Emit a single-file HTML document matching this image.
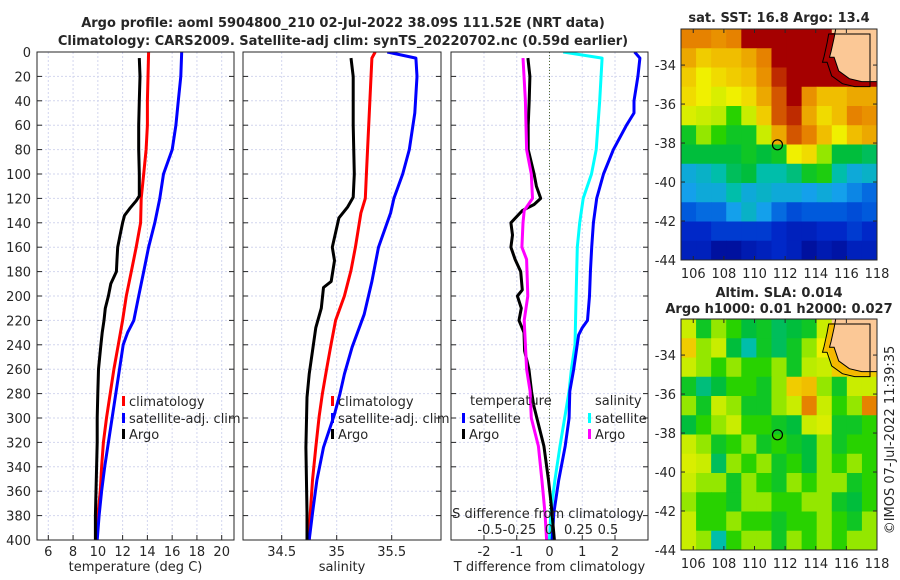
<!DOCTYPE html>
<html><head><meta charset="utf-8">
<style>
body{margin:0;background:#fff;}
svg{display:block;font-family:"DejaVu Sans","Liberation Sans",sans-serif;}
text{fill:#262626;}
</style></head>
<body>
<svg id="c" width="900" height="580" viewBox="0 0 900 580" xmlns="http://www.w3.org/2000/svg"></svg>
<script>
// ---------- data ----------
const depthClim = [0,20,40,60,80,100,120,140,160,180,200,220,240,260,280,300,320,340,360,380,400];
const tempClim = [14.1,14.05,14.0,14.0,13.9,13.7,13.5,13.45,13.1,12.7,12.3,12.0,11.65,11.3,11.0,10.7,10.45,10.3,10.2,10.0,9.85];
const depthSatT = [0,20,40,50,60,80,100,120,140,160,180,200,220,230,240,260,280,300,320,340,360,380,400];
const tempSat = [16.77,16.7,16.5,16.4,16.3,16.0,15.3,15.0,14.6,14.1,13.7,13.3,12.9,12.4,12.05,11.75,11.45,11.15,10.85,10.55,10.3,10.1,9.95];
const depthArgo = [5,20,40,60,80,100,110,118,122,128,134,140,150,160,170,180,190,200,210,220,230,240,250,260,280,300,320,340,360,380,400];
const tempArgo = [13.35,13.4,13.35,13.3,13.3,13.35,13.35,13.35,13.1,12.6,12.15,12.0,11.8,11.6,11.55,11.5,11.05,10.85,10.6,10.5,10.35,10.25,10.15,10.05,10.0,9.95,9.95,9.9,9.85,9.8,9.8];

const depthSalClim = [0,5,100,120,132,160,179,200,220,239,259,280,299,324,351,378,400];
const salClim = [35.35,35.32,35.27,35.26,35.22,35.17,35.13,35.07,34.99,34.95,34.91,34.87,34.84,34.81,34.78,34.76,34.75];
const depthSalSat = [0,5,20,50,80,100,120,132,160,188,215,242,264,280,297,324,351,378,400];
const salSat = [35.46,35.72,35.73,35.71,35.66,35.6,35.52,35.49,35.38,35.32,35.25,35.14,35.07,35.03,34.98,34.88,34.82,34.78,34.75];
const depthSalArgo = [5,20,60,100,119,127,136,160,171,188,193,210,226,245,264,283,324,378,400];
const salArgo = [35.13,35.15,35.15,35.16,35.15,35.10,35.02,34.96,34.98,34.95,34.88,34.86,34.81,34.78,34.75,34.73,34.72,34.73,34.73];

const depthDT = [0,5,20,40,50,60,80,100,120,140,160,180,200,220,226,232,260,278,300,323,351,378,400];
const dTsat = [2.6,2.76,2.7,2.58,2.58,2.35,1.95,1.65,1.44,1.34,1.29,1.25,1.22,1.16,1.0,0.89,0.74,0.62,0.6,0.48,0.28,0.13,0.08];
const depthDTargo = [5,20,40,60,80,100,110,120,125,130,140,150,160,170,180,195,200,210,220,230,245,260,278,290,323,351,370,400];
const dTargo = [-0.66,-0.6,-0.62,-0.65,-0.65,-0.47,-0.4,-0.27,-0.47,-0.83,-1.18,-1.13,-1.18,-1.05,-0.88,-0.83,-0.98,-0.86,-0.93,-0.78,-0.76,-0.63,-0.55,-0.48,-0.17,-0.03,0.05,0.15];
const depthDS = [0,5,40,80,100,120,140,160,200,240,260,278,323,351,378,400];
const dSsat = [0.12,0.45,0.43,0.4,0.36,0.29,0.26,0.24,0.23,0.22,0.19,0.17,0.093,0.05,0.015,0.003];
const depthDSargo = [5,40,80,100,120,130,140,160,170,200,220,240,260,278,300,323,351,378,400];
const dSargo = [-0.22,-0.2,-0.19,-0.15,-0.14,-0.21,-0.22,-0.23,-0.19,-0.18,-0.21,-0.2,-0.19,-0.16,-0.15,-0.09,-0.06,-0.034,-0.02];

const depthTicks = [0,20,40,60,80,100,120,140,160,180,200,220,240,260,280,300,320,340,360,380,400];
const tempTicks = [6,8,10,12,14,16,18,20];
const salTicks = [34.5,35,35.5];
const dTTicks = [-2,-1,0,1,2];
const dSTicks = [-0.5,-0.25,0,0.25,0.5];
const dSTickLabels = ["-0.5","-0.25","0","0.25","0.5"];
const lonTicks = [106,108,110,112,114,116,118];
const latTicks = [-34,-36,-38,-40,-42,-44];

// SST map grid (0..1 colour index), rows north->south, -1 = land
const sstGrid = [
[.8,.8,.78,.8,.95,.95,.95,.95,.95,.95,-1,-1,-1],
[.75,.7,.72,.72,.75,.8,.95,.95,.95,.95,-1,-1,-1],
[.7,.65,.68,.7,.72,.78,.9,.95,.95,.95,.95,.95,.95],
[.68,.65,.62,.65,.68,.75,.85,.95,.78,.72,.72,.75,.75],
[.62,.6,.58,.5,.6,.7,.85,.9,.75,.68,.72,.8,.78],
[.45,.55,.5,.45,.45,.6,.75,.85,.8,.72,.65,.72,.75],
[.42,.42,.42,.42,.45,.42,.45,.65,.68,.55,.42,.42,.4],
[.3,.32,.35,.4,.42,.35,.35,.38,.45,.48,.35,.3,.32],
[.28,.3,.3,.35,.3,.32,.3,.3,.28,.3,.28,.25,.22],
[.2,.22,.22,.28,.32,.28,.22,.18,.2,.2,.2,.18,.2],
[.12,.12,.15,.15,.15,.15,.12,.1,.1,.12,.12,.15,.12],
[.1,.1,.05,.05,.08,.1,.12,.1,.05,.08,.06,.1,.1]];
const slaGrid = [
[.6,.45,.55,.5,.42,.45,.4,.42,.45,.6,-1,-1,-1],
[.7,.55,.6,.42,.35,.45,.4,.45,.55,.65,-1,-1,-1],
[.6,.55,.5,.55,.5,.5,.55,.45,.58,.6,.7,.7,.7],
[.45,.38,.42,.5,.5,.45,.55,.7,.72,.55,.45,.6,.6],
[.55,.45,.6,.55,.45,.45,.55,.6,.8,.6,.5,.55,.8],
[.42,.5,.55,.6,.5,.5,.45,.42,.6,.62,.45,.45,.5],
[.6,.55,.45,.5,.55,.45,.5,.45,.42,.55,.45,.5,.5],
[.62,.6,.4,.55,.5,.55,.45,.5,.42,.55,.5,.55,.5],
[.6,.55,.55,.45,.55,.5,.45,.55,.5,.55,.55,.45,.5],
[.55,.5,.5,.45,.55,.55,.5,.5,.55,.55,.45,.42,.5],
[.6,.5,.5,.55,.5,.5,.45,.5,.5,.55,.5,.45,.55],
[.6,.55,.35,.5,.55,.55,.45,.55,.5,.55,.5,.55,.55]];
const landLon = [115.3,115.2,115.0,114.9,115.2,115.5,116.2,117.0,118,118];
const landLat = [-32.15,-32.6,-33.3,-33.6,-33.6,-34.3,-34.7,-34.85,-34.85,-32.15];
const argoLon = 111.5, argoLat = -38.09;

// ---------- helpers ----------
const svg = document.getElementById('c');
const NS = 'http://www.w3.org/2000/svg';
function mk(tag, attrs, parent){ const e=document.createElementNS(NS,tag); for(const k in attrs) e.setAttribute(k,attrs[k]); (parent||svg).appendChild(e); return e; }
function txt(x,y,s,attrs,parent){ const e=mk('text',Object.assign({x:x,y:y,'font-size':13},attrs||{}),parent); e.textContent=s; return e; }
function lin(d0,d1,r0,r1){ return v=>r0+(v-d0)*(r1-r0)/(d1-d0); }

const Y0=52, Y1=540;
const yScale = lin(0,400,Y0,Y1);

function panel(name, x0, x1, xs, xticks, xlabels, xtitle, id){
  const g = mk('g',{});
  
  
  const cp = mk('clipPath',{id:id},g); mk('rect',{x:x0,y:Y0,width:x1-x0,height:Y1-Y0},cp);
  xticks.forEach(t=>{ const l=mk('line',{x1:xs(t),x2:xs(t),y1:Y0,y2:Y1,stroke:'#d2d6ee','stroke-width':1,'stroke-dasharray':'2,2'},g);
      });
  depthTicks.forEach(t=>{ const l=mk('line',{x1:x0,x2:x1,y1:yScale(t),y2:yScale(t),stroke:'#d2d6ee','stroke-width':1,'stroke-dasharray':'2,2'},g);
     
    mk('line',{x1:x0,x2:x0+5,y1:yScale(t),y2:yScale(t),stroke:'#262626'},g);
    mk('line',{x1:x1-5,x2:x1,y1:yScale(t),y2:yScale(t),stroke:'#262626'},g);
  });
  xticks.forEach((t,i)=>{ mk('line',{x1:xs(t),x2:xs(t),y1:Y1-5,y2:Y1,stroke:'#262626'},g);
    if(xlabels){ const e=txt(xs(t),556,xlabels[i],{'text-anchor':'middle'},g);   }
  });
  if(xtitle){ const e=txt((x0+x1)/2,571,xtitle,{'text-anchor':'middle'},g);   }
  return {g:g, clip:'url(#'+id+')', x0:x0, x1:x1};
}
function line(p, xs, xv, dv, color, name, w){
  const pts = xv.map((v,i)=>xs(v).toFixed(1)+','+yScale(dv[i]).toFixed(1)).join(' ');
  const e = mk('polyline',{points:pts,fill:'none',stroke:color,'stroke-width':w||3,'stroke-linejoin':'round','clip-path':p.clip},p.g);
  
  
}
function frame(p){ mk('rect',{x:p.x0,y:Y0,width:p.x1-p.x0,height:Y1-Y0,fill:'none',stroke:'#262626','stroke-width':1},p.g); }
function legendEntry(g,x,y,color,label,name){
  mk('rect',{x:x,y:y-5,width:3,height:10,fill:color},g);
  const e=txt(x+7,y+5,label,{},g);
  
  
}

// titles
let t1 = txt(343,27,'Argo profile: aoml 5904800_210 02-Jul-2022 38.09S 111.52E (NRT data)',{'text-anchor':'middle','font-weight':'bold'});
 
let t2 = txt(343,45,'Climatology: CARS2009. Satellite-adj clim: synTS_20220702.nc (0.59d earlier)',{'text-anchor':'middle','font-weight':'bold'});
 

// y tick labels
depthTicks.forEach(t=>{ const e=txt(31,yScale(t)+5,String(t),{'text-anchor':'end'});   });

// panel 1 temperature
const xT = lin(6,20,48.3,221.7);
const p1 = panel('temperature-panel',37,234,xT,tempTicks,tempTicks.map(String),'temperature (deg C)','cp1');
line(p1,xT,tempClim,depthClim,'#ff0000','climatology-temp-line');
line(p1,xT,tempSat,depthSatT,'#0000ff','satellite-temp-line');
line(p1,xT,tempArgo,depthArgo,'#000000','argo-temp-line');
frame(p1);
const lg1 = mk('g',{});  
legendEntry(lg1,122,401,'#ff0000','climatology','legend-climatology');
legendEntry(lg1,122,418,'#0000ff','satellite-adj. clim','legend-satellite');
legendEntry(lg1,122,434,'#000000','Argo','legend-argo');

// panel 2 salinity
const xS = lin(34.5,35.5,281.7,391.7);
const p2 = panel('salinity-panel',243,441,xS,salTicks,salTicks.map(String),'salinity','cp2');
line(p2,xS,salClim,depthSalClim,'#ff0000','climatology-salinity-line');
line(p2,xS,salSat,depthSalSat,'#0000ff','satellite-salinity-line');
line(p2,xS,salArgo,depthSalArgo,'#000000','argo-salinity-line');
frame(p2);
const lg2 = mk('g',{});  
legendEntry(lg2,331,401,'#ff0000','climatology','legend-climatology');
legendEntry(lg2,331,418,'#0000ff','satellite-adj. clim','legend-satellite');
legendEntry(lg2,331,434,'#000000','Argo','legend-argo');

// panel 3 differences
const xDT = lin(-2,2,484,615);
const xDS = lin(0,0.5,549,608);
const p3 = panel('difference-panel',451,648,xDT,dTTicks,dTTicks.map(String),'T difference from climatology','cp3');
const zl = mk('line',{x1:xDT(0),x2:xDT(0),y1:Y0,y2:Y1,stroke:'#556b2f','stroke-width':1,'stroke-dasharray':'1,2'},p3.g);
 
line(p3,xDS,dSsat,depthDS,'#00ffff','satellite-salinity-diff-line');
line(p3,xDT,dTsat,depthDT,'#0000ff','satellite-temp-diff-line');
line(p3,xDT,dTargo,depthDTargo,'#000000','argo-temp-diff-line');
line(p3,xDS,dSargo,depthDSargo,'#ff00ff','argo-salinity-diff-line');
frame(p3);
const sAx = mk('g',{});  
let st = txt(548,518,'S difference from climatology',{'text-anchor':'middle'},sAx);
 
dSTicks.forEach((t,i)=>{ const e=txt(xDS(t),534,dSTickLabels[i],{'text-anchor':'middle'},sAx);   });
const lg3 = mk('g',{});  
let lt = txt(470,405,'temperature',{},lg3);  
let ls = txt(595,405,'salinity',{},lg3);  
legendEntry(lg3,462,418,'#0000ff','satellite','legend-temp-satellite');
legendEntry(lg3,462,434,'#000000','Argo','legend-temp-argo');
legendEntry(lg3,588,418,'#00ffff','satellite','legend-sal-satellite');
legendEntry(lg3,588,434,'#ff00ff','Argo','legend-sal-argo');

// ---------- maps ----------
const cmapStops = [
 [0.0,[0,0,130]],[0.12,[0,40,200]],[0.2,[0,90,220]],[0.28,[20,160,235]],[0.35,[0,190,170]],
 [0.42,[0,190,60]],[0.5,[40,210,0]],[0.56,[170,235,0]],[0.65,[240,240,0]],[0.72,[240,190,0]],
 [0.8,[230,130,0]],[0.88,[200,60,0]],[0.95,[165,0,0]],[1.0,[130,0,0]]];
function cmap(v){
  for(let i=1;i<cmapStops.length;i++){ const a=cmapStops[i-1], b=cmapStops[i];
    if(v<=b[0]){ const f=(v-a[0])/(b[0]-a[0]); const c=a[1].map((x,k)=>Math.round(x+(b[1][k]-x)*f)); return 'rgb('+c.join(',')+')'; } }
  return 'rgb(130,0,0)';
}
function map(name, grid, y0, y1, latTop, bandColor, id){
  const x0=681, x1=877;
  const xs = lin(105.2,118,x0,x1), ys = lin(latTop,-44,y0,y1);
  const g = mk('g',{});  
  const cp = mk('clipPath',{id:id},g); mk('rect',{x:x0,y:y0,width:x1-x0,height:y1-y0},cp);
  const gi = mk('g',{'clip-path':'url(#'+id+')'},g);
  const nr=grid.length, nc=grid[0].length, cw=(x1-x0)/nc, rh=(y1-y0)/nr;
  grid.forEach((row,r)=>row.forEach((v,c)=>{
    const e=mk('rect',{x:(x0+c*cw).toFixed(2),y:(y0+r*rh).toFixed(2),width:(cw+0.6).toFixed(2),height:(rh+0.6).toFixed(2),fill:v<0?'#fbc896':cmap(v)},gi);
     
  }));
  const pts = landLon.map((l,i)=>xs(l).toFixed(1)+','+ys(landLat[i]).toFixed(1)).join(' ');
  const band = mk('polygon',{points:pts,fill:bandColor,transform:'translate(-6,4)'},gi);
   
  const land = mk('polygon',{points:pts,fill:'#fbc896',stroke:'#000','stroke-width':1},gi);
   
  mk('polygon',{points:pts,fill:'none',stroke:'#000','stroke-width':1,transform:'translate(-7,5)'},gi);
  const circ = mk('circle',{cx:xs(argoLon),cy:ys(argoLat),r:5,fill:'none',stroke:'#000','stroke-width':1.2},g);
   
  mk('rect',{x:x0,y:y0,width:x1-x0,height:y1-y0,fill:'none',stroke:'#262626'},g);
  lonTicks.forEach(t=>{ mk('line',{x1:xs(t),x2:xs(t),y1:y1-4,y2:y1,stroke:'#262626'},g);
    mk('line',{x1:xs(t),x2:xs(t),y1:y0,y2:y0+4,stroke:'#262626'},g);
    const e=txt(xs(t),y1+18,String(t),{'text-anchor':'middle'},g);   });
  latTicks.forEach(t=>{ mk('line',{x1:x0,x2:x0+4,y1:ys(t),y2:ys(t),stroke:'#262626'},g);
    mk('line',{x1:x1-4,x2:x1,y1:ys(t),y2:ys(t),stroke:'#262626'},g);
    const e=txt(676,ys(t)+5,String(t),{'text-anchor':'end'},g);   });
  return g;
}
map('sst-map', sstGrid, 29, 260, -32.15, '#a80000', 'cpm1');
map('sla-map', slaGrid, 319, 550, -32.15, '#f5b800', 'cpm2');
let mt1 = txt(779,22,'sat. SST: 16.8 Argo: 13.4',{'text-anchor':'middle','font-weight':'bold'});
 
let mt2 = txt(779,297,'Altim. SLA: 0.014',{'text-anchor':'middle','font-weight':'bold'});
 
let mt3 = txt(779,313,'Argo h1000: 0.01 h2000: 0.027',{'text-anchor':'middle','font-weight':'bold'});
 
let cr = txt(0,0,'©IMOS 07-Jul-2022 11:39:35',{'text-anchor':'middle',transform:'translate(894,440) rotate(-90)'});
 
</script>
</body></html>
